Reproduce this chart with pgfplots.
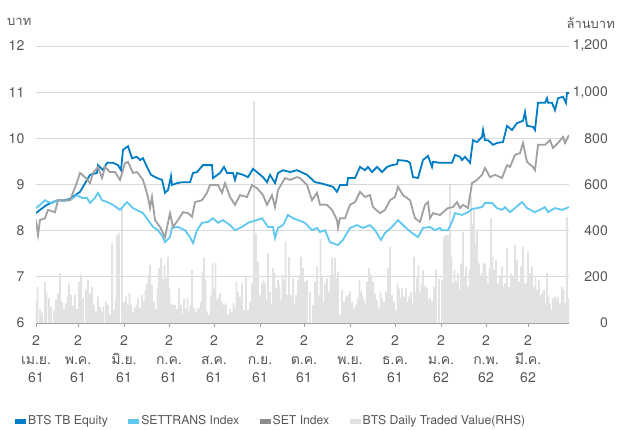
\documentclass[border=0pt]{standalone}
\usepackage{fontspec}
\setmainfont{TeX Gyre Heros}
\newfontfamily\thaifont[Script=Thai]{Loma}
\usepackage{pgfplots}
\pgfplotsset{compat=1.18}

\definecolor{btsblue}{RGB}{0,125,197}
\definecolor{transblue}{RGB}{95,200,240}
\definecolor{setgray}{RGB}{160,160,164}
\definecolor{setlegend}{RGB}{140,140,140}
\definecolor{bargray}{RGB}{226,226,226}
\definecolor{gridgray}{RGB}{217,217,217}
\definecolor{axisgray}{RGB}{160,160,160}
\definecolor{textgray}{RGB}{85,85,85}

% x = position along the year (2 Apr 2018 = 0), both axes share it
\pgfplotsset{
  shared/.style={
    scale only axis, width=533pt, height=277pt,
    xmin=0, xmax=533,
    /pgf/number format/assume math mode=true,
    /pgf/number format/1000 sep={,},
    tick label style={font=\fontsize{14}{16}\selectfont, text=textgray},
  }
}

\begin{document}
\begin{tikzpicture}
\useasboundingbox (-36pt,-106pt) rectangle (587pt,323pt);

% right axis: daily traded value (million baht)
\begin{axis}[shared,
  ymin=0, ymax=1200,
  axis x line=none,
  axis y line*=right,
  y axis line style={draw=none},
  ytick={0,200,...,1200}, ytick style={draw=none},
  ymajorgrids, major grid style={color=gridgray, line width=0.8pt},
  yticklabel style={anchor=east, inner sep=0pt, xshift=39pt},
]
\addplot[ybar, bar width=1.6, fill=bargray, draw=none] coordinates {
(0,92) (1.5,157) (4,60) (6,45) (9,179) (10.5,136) (13,107) (15,70) (18,55) (20,100)
(22,128) (24,216) (26,92) (28,60) (30,85) (31.5,114) (33,172) (35,121) (37,75) (39,121)
(41,60) (43,179) (45,208) (47,107) (50,143) (52,186) (54,128) (56,157) (58,80) (60,49)
(62,114) (64,71) (66,50) (67.5,71) (70,90) (72,78) (74,35) (76,345) (78,56) (79.5,100)
(81,381) (83,388) (86,500) (88,90) (90,114) (92,80) (93.5,128) (95,78) (97,49) (99,65)
(100.5,78) (102,107) (104,65) (106,121) (108,95) (109.5,143) (111,170) (112.5,208) (114,251) (116,164)
(118,90) (120,60) (121.5,150) (123,237) (125,281) (127,190) (128.5,251) (130,195) (132,287) (133.5,150)
(135,85) (137,78) (139,78) (141,60) (143,153) (145,78) (146.5,40) (148,107) (150,60) (151.5,107)
(153,50) (154.5,78) (156,229) (158,65) (160,45) (161.5,60) (163,65) (165,90) (166.5,221) (168,283)
(169.5,186) (171,50) (173,35) (175,120) (176.5,258) (178,150) (179.5,263) (181,100) (182.5,113) (184,130)
(186,91) (188,78) (190,85) (192,35) (194,60) (196,45) (197.5,87) (199,65) (200.5,179) (202,134)
(204,113) (206,172) (208,56) (210,200) (212,56) (214,90) (216,172) (218,960) (220,388) (222,265)
(224,120) (226,172) (227.5,186) (229,172) (230.5,100) (232,302) (234,134) (235.5,80) (237,237) (238.5,216)
(240,152) (242,186) (243.5,165) (245,100) (246.5,208) (248,186) (249.5,352) (251,121) (253,287) (255,120)
(257,193) (258.5,85) (260,121) (262,186) (263.5,208) (265,287) (267,237) (269,179) (271,186) (274,136)
(277,78) (279,179) (281,244) (283,120) (284.5,367) (286,200) (287.5,92) (289,172) (291,193) (293,136)
(294.5,208) (296,283) (297.5,208) (299,283) (300.5,193) (302,222) (304,35) (306,143) (308,92) (310,114)
(312,121) (314,136) (316,92) (318,63) (320,78) (322,107) (323.5,186) (325,136) (326.5,121) (328,100)
(329.5,78) (331,179) (333,237) (335,208) (337,179) (339,128) (341,100) (343,63) (344.5,136) (346,107)
(348,92) (350,136) (352,237) (354,330) (356,121) (358,92) (360,56) (361.5,172) (363,150) (364.5,107)
(366,150) (368,114) (370,150) (371.5,92) (373,114) (375,136) (376.5,78) (378,287) (379.5,136) (381,193)
(382.5,251) (384,130) (385.5,170) (387,229) (389,160) (391,150) (392.5,100) (394,110) (396,95) (398,157)
(400,230) (403,190) (406,186) (408,374) (410,381) (412,381) (414,597) (415.5,287) (417,172) (418.5,230)
(420,179) (422,215) (423.5,143) (425,258) (427,395) (428.5,200) (430,244) (432,157) (433.5,230) (435,547)
(436.5,431) (438,489) (439.5,345) (441,403) (443,258) (444.5,200) (446,215) (447.5,258) (449,258) (450.5,200)
(452,172) (453.5,237) (455,453) (456.5,287) (458,230) (460,273) (462,172) (464,200) (466,244) (467.5,157)
(469,172) (471,323) (473,157) (475,215) (477,200) (479,338) (481,273) (483,179) (485,244) (487,330)
(488.5,172) (490,172) (492,309) (494,215) (496,244) (498,157) (499.5,200) (501,143) (503,186) (504.5,114)
(506,128) (508,143) (509.5,85) (511,217) (512.5,114) (514,85) (515.5,56) (517,107) (519,115) (520.5,100)
(522,114) (524,85) (526,157) (527.5,143) (529,85) (531,460) (532.5,107)
};
\end{axis}

% left axis: prices in baht and rescaled indices
\begin{axis}[shared,
  ymin=6, ymax=12,
  axis x line*=bottom,
  axis y line*=left,
  y axis line style={draw=none},
  x axis line style={color=axisgray, line width=0.8pt},
  ytick={6,...,12}, ytick style={draw=none},
  yticklabel style={anchor=east, inner sep=0pt, xshift=-8pt},
  tick align=outside, major tick length=3.5pt,
  xtick style={color=axisgray, line width=0.8pt},
  xtick={0,42,88,133,178,224,268,314,359,405,450,492},
  xticklabels={
    {2\\\thaifont เม.ย.\\61}, {2\\\thaifont พ.ค.\\61}, {2\\\thaifont มิ.ย.\\61},
    {2\\\thaifont ก.ค.\\61}, {2\\\thaifont ส.ค.\\61}, {2\\\thaifont ก.ย.\\61},
    {2\\\thaifont ต.ค.\\61}, {2\\\thaifont พ.ย.\\61}, {2\\\thaifont ธ.ค.\\61},
    {2\\\thaifont ม.ค.\\62}, {2\\\thaifont ก.พ.\\62}, {2\\\thaifont มี.ค.\\62}},
  xticklabel style={align=center, inner sep=0pt, yshift=-9pt,
    font=\fontsize{14}{18.5}\selectfont},
  legend columns=4,
  legend image code/.code={\fill[#1] (0pt,-2pt) rectangle (10pt,2pt);},
  legend style={draw=none, fill=none, inner sep=0pt,
    at={(axis description cs:-0.0394,-0.3538)}, anchor=west,
    nodes={inner xsep=2.5pt, inner ysep=1.5pt, font=\fontsize{12.2}{14}\selectfont, text=textgray},
    /tikz/every even column/.append style={column sep=18pt}},
]
\addplot[color=btsblue, line width=1.8pt, forget plot] coordinates {
(0,8.38) (4,8.45) (11,8.56) (17,8.62) (22,8.66) (29,8.66) (34,8.69) (44,8.84) (54,9.21) (61,9.25)
(62,9.42) (67,9.31) (71,9.47) (77,9.47) (82,9.42) (85,9.31) (87,9.75) (92,9.83) (96,9.57) (101,9.60)
(104,9.53) (107,9.57) (111,9.38) (115,9.21) (121,9.14) (126,9.10) (129,8.82) (132,8.88) (135,9.18) (136,8.99)
(141,9.03) (146,9.05) (154,9.05) (157,9.25) (161,9.27) (167,9.42) (176,9.42) (177,9.14) (184,9.25) (188,9.38)
(191,9.25) (197,9.25) (199,9.10) (201,9.25) (207,9.21) (212,9.16) (217,9.34) (222,9.25) (227,9.16) (231,9.05)
(234,9.21) (239,9.03) (242,9.25) (247,9.31) (254,9.27) (261,9.31) (267,9.25) (271,9.21) (279,9.05) (284,9.03)
(291,8.99) (297,8.95) (301,8.84) (304,8.99) (311,8.99) (312,9.14) (319,9.14) (324,9.38) (329,9.31) (332,9.38)
(336,9.27) (341,9.38) (346,9.27) (351,9.38) (356,9.42) (361,9.44) (362,9.53) (371,9.51) (374,9.47) (377,9.16)
(382,9.14) (387,9.53) (392,9.62) (396,9.38) (397,9.49) (404,9.47) (416,9.47) (419,9.64) (424,9.60) (426,9.53)
(429,9.60) (434,9.47) (437,9.96) (441,9.92) (446,10.03) (447,10.18) (449,9.96) (452,9.96) (457,9.86) (461,9.90)
(467,9.92) (471,10.27) (476,10.18) (481,10.33) (487,10.38) (489,10.57) (491,10.27) (497,10.25) (499,10.18) (502,10.77)
(509,10.77) (511,10.87) (512,10.77) (516,10.77) (519,10.61) (522,10.87) (527,10.90) (530,10.77) (531,10.98) (533,10.98)
};
\addplot[color=transblue, line width=1.8pt, forget plot] coordinates {
(0,8.49) (4,8.56) (9,8.66) (12,8.62) (16,8.60) (22,8.66) (27,8.64) (34,8.66) (41,8.77) (46,8.71)
(51,8.71) (54,8.60) (59,8.71) (62,8.82) (66,8.66) (71,8.62) (77,8.56) (84,8.45) (91,8.62) (97,8.49)
(107,8.38) (114,8.17) (117,8.08) (122,8.01) (127,7.86) (129,7.75) (134,7.86) (136,8.06) (142,8.08) (149,8.01)
(154,7.86) (157,7.73) (161,8.01) (166,8.17) (172,8.19) (177,8.27) (182,8.17) (187,8.23) (194,8.12) (199,8.01)
(206,8.08) (212,8.17) (221,8.23) (226,8.27) (232,8.08) (237,8.08) (239,7.84) (242,8.06) (247,8.12) (252,8.34)
(257,8.27) (262,8.23) (269,8.17) (276,8.01) (281,8.06) (284,7.97) (289,8.01) (294,7.75) (302,7.69) (307,7.80)
(314,8.06) (321,8.12) (327,8.06) (334,8.12) (339,8.01) (345,7.80) (349,7.95) (356,8.08) (362,8.23) (369,8.08)
(376,7.95) (382,7.86) (387,8.06) (394,8.08) (399,8.01) (404,8.06) (406,8.01) (412,8.01) (416,8.19) (419,8.38)
(426,8.34) (432,8.40) (436,8.47) (446,8.51) (449,8.60) (456,8.60) (461,8.49) (466,8.45) (469,8.51) (474,8.40)
(479,8.49) (486,8.62) (491,8.49) (499,8.40) (509,8.51) (512,8.40) (519,8.49) (526,8.45) (533,8.51)
};
\addplot[color=setgray, line width=1.8pt, forget plot] coordinates {
(0,8.23) (2,7.91) (4,8.23) (9,8.27) (12,8.45) (19,8.40) (22,8.66) (27,8.66) (34,8.66) (41,9.05)
(44,9.25) (49,9.16) (54,9.03) (57,9.25) (62,9.38) (66,9.14) (69,9.38) (74,9.27) (79,9.27) (84,9.10)
(89,9.46) (92,9.49) (97,9.25) (101,9.27) (107,9.10) (112,8.73) (114,8.49) (116,8.73) (119,8.23) (124,8.08)
(129,7.86) (134,8.38) (137,8.08) (142,8.23) (147,8.40) (152,8.38) (156,8.30) (159,8.62) (166,8.66) (171,8.82)
(174,8.99) (182,8.99) (186,8.82) (189,9.03) (194,8.73) (199,8.56) (204,8.77) (211,8.73) (216,8.99) (221,8.92)
(227,8.77) (231,8.56) (236,8.77) (239,8.51) (242,8.88) (249,9.14) (254,9.10) (261,9.16) (264,9.14) (271,8.99)
(276,8.66) (281,8.82) (284,8.56) (291,8.56) (296,8.45) (301,8.23) (302,8.06) (304,8.27) (309,8.27) (314,8.56)
(319,8.62) (324,8.84) (329,8.73) (334,8.77) (337,8.51) (344,8.38) (349,8.45) (354,8.66) (359,8.73) (362,8.95)
(367,8.77) (374,8.66) (379,8.27) (384,8.19) (389,8.56) (392,8.62) (394,8.27) (397,8.38) (404,8.34) (406,8.38)
(412,8.49) (417,8.51) (421,8.62) (424,8.49) (427,8.56) (432,8.49) (436,9.03) (441,9.10) (446,9.21) (449,9.36)
(454,9.16) (459,9.21) (466,9.14) (471,9.42) (474,9.38) (479,9.64) (484,9.68) (487,9.90) (491,9.49) (497,9.38)
(499,9.31) (502,9.86) (509,9.86) (514,9.96) (517,9.79) (522,9.90) (527,10.03) (529,9.90) (533,10.07)
};
\addlegendimage{color=btsblue}
\addlegendimage{color=transblue}
\addlegendimage{color=setlegend}
\addlegendimage{color=bargray}
\legend{BTS TB Equity, SETTRANS Index, SET Index, BTS Daily Traded Value(RHS)}
\end{axis}

\node[anchor=west, inner sep=0pt, text=textgray, font=\thaifont\fontsize{13}{15}\selectfont] at (-29pt,301pt) {บาท};
\node[anchor=east, inner sep=0pt, text=textgray, font=\thaifont\fontsize{13}{15}\selectfont] at (579pt,300pt) {ล้านบาท};
\end{tikzpicture}
\end{document}
